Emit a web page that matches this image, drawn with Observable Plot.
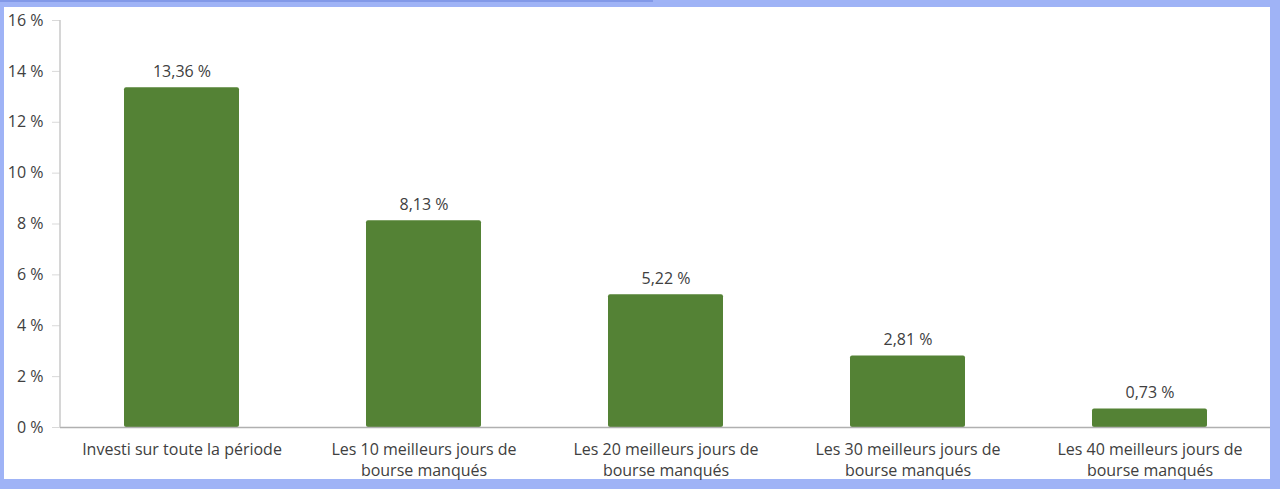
<!DOCTYPE html>
<html>
<head>
<meta charset="utf-8">
<script src="https://cdn.jsdelivr.net/npm/d3@7"></script>
<script src="https://cdn.jsdelivr.net/npm/@observablehq/plot@0.6"></script>
<style>
  html, body { margin: 0; padding: 0; width: 1280px; height: 489px; overflow: hidden; background: #9fb3f6; }
  #topstrip { position: absolute; left: 0; top: 0; width: 653px; height: 2px; background: #8299e8; }
  #panel { position: absolute; left: 4px; top: 7px; width: 1266px; height: 472px; background: #ffffff; }
  #chart { position: absolute; left: 0; top: 0; }
  svg { font-family: "Open Sans", sans-serif; }
</style>
</head>
<body>
<div id="topstrip"></div>
<div id="panel"></div>
<div id="chart"></div>
<script>
const categories = [
  "Investi sur toute la période",
  "Les 10 meilleurs jours de\nbourse manqués",
  "Les 20 meilleurs jours de\nbourse manqués",
  "Les 30 meilleurs jours de\nbourse manqués",
  "Les 40 meilleurs jours de\nbourse manqués"
];
const values = [13.36, 8.13, 5.22, 2.81, 0.73];
const yTicks = [0, 2, 4, 6, 8, 10, 12, 14, 16];

const data = categories.map((c, i) => ({category: c, value: values[i]}));
const frNum = v => d3.format(".2f")(v).replace(".", ",") + " %";

const chart = Plot.plot({
  width: 1280,
  height: 489,
  marginLeft: 60,
  marginRight: 10,
  marginTop: 20,
  marginBottom: 62,
  style: {background: "transparent", fontSize: "16px", color: "#404040", fontFamily: "'Open Sans', sans-serif"},
  x: {domain: categories, paddingInner: 0.525, paddingOuter: 0.2625, label: null},
  y: {domain: [0, 16], label: null},
  marks: [
    Plot.gridY(yTicks, {stroke: "#e4e4e4", strokeOpacity: 1, x1: 60, x2: 1270}),
    Plot.axisY({ticks: yTicks, tickFormat: d => d + " %", tickSize: 8, tickPadding: 9, stroke: "#d9d9d9", fill: "#404040", fontSize: 16, label: null}),
    Plot.barY(data, {x: "category", y: "value", fill: "#548235", rx: 2}),
    Plot.ruleY([0], {stroke: "#b0b0b0", strokeWidth: 1.5}),
    Plot.text(data, {x: "category", y: "value", text: d => frNum(d.value), dy: -16, fill: "#404040", fontSize: 16}),
    Plot.axisX({tickSize: 0, tickPadding: 13, fontSize: 16, fill: "#404040", lineHeight: 1.3, label: null})
  ]
});
// left axis line
const svg = d3.select(chart);
svg.append("line").attr("x1", 60).attr("x2", 60).attr("y1", 20).attr("y2", 427)
  .attr("stroke", "#c8c8c8").attr("stroke-width", 1.5);
document.getElementById("chart").appendChild(chart);
</script>
</body>
</html>
